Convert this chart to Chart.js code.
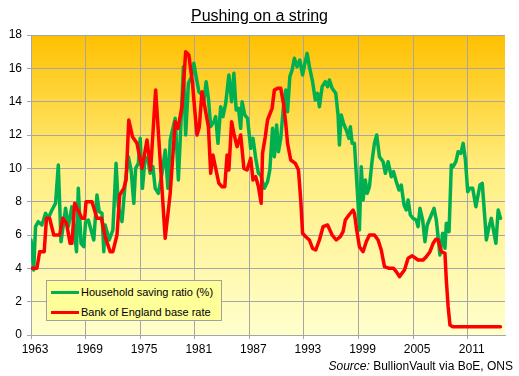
<!DOCTYPE html>
<html>
<head>
<meta charset="utf-8">
<script src="https://cdn.jsdelivr.net/npm/chart.js@4/dist/chart.umd.min.js"></script>
<style>
  html, body { margin: 0; padding: 0; background: #ffffff; }
  #wrap { position: relative; width: 519px; height: 376px; font-family: "Liberation Sans", Arial, sans-serif; }
  #c { position: absolute; left: 0; top: 0; }
  #title { position: absolute; left: 0; width: 519px; top: 7px; text-align: center; font-size: 16px; color: #000; text-decoration: underline; }
  #source { position: absolute; right: 6px; top: 359px; font-size: 12px; color: #000; }
  #legend { position: absolute; left: 46px; top: 280px; width: 174px; height: 39px; background: #FFFF99; border: 1px solid #A0A0A0; font-size: 11px; color: #000; }
  .li { position: absolute; left: 4px; height: 14px; display: flex; align-items: center; white-space: nowrap; }
  .sw { width: 28px; height: 3px; margin-right: 2px; }
</style>
</head>
<body>
<div id="wrap">
  <canvas id="c" width="519" height="376"></canvas>
  <div id="title">Pushing on a string</div>
  <div id="legend"></div>
  <div id="source"><i>Source:</i> BullionVault via BoE, ONS</div>
</div>
<script>
// ---- Data ----
const tickYears = [1963, 1969, 1975, 1981, 1987, 1993, 1999, 2005, 2011];
const yTicks = [0, 2, 4, 6, 8, 10, 12, 14, 16, 18];

const savingYears = [
  1963.0,1963.3,1963.5,1963.8,1964.2,1964.6,1964.9,1965.3,1965.7,1966.0,
  1966.3,1966.6,1966.8,1967.1,1967.3,1967.5,1967.8,1968.0,1968.2,1968.5,
  1968.8,1969.0,1969.3,1969.6,1969.9,1970.25,1970.5,1970.8,1971.0,1971.15,
  1971.6,1972.0,1972.35,1972.6,1973.0,1973.35,1973.7,1974.0,1974.3,1974.5,
  1974.8,1975.0,1975.25,1975.55,1975.85,1976.1,1976.4,1976.65,1977.0,1977.4,
  1977.75,1978.05,1978.3,1978.85,1979.2,1979.4,1979.75,1980.0,1980.3,1980.65,
  1980.9,1981.15,1981.45,1981.75,1982.0,1982.25,1982.5,1982.75,1983.1,1983.3,
  1983.55,1983.85,1984.1,1984.4,1984.75,1985.05,1985.3,1985.55,1985.8,1986.05,
  1986.2,1986.5,1986.8,1987.15,1987.4,1987.7,1988.0,1988.25,1988.65,1989.0,
  1989.25,1989.55,1989.75,1990.0,1990.2,1990.45,1990.75,1991.0,1991.2,1991.45,
  1991.7,1991.95,1992.25,1992.55,1992.85,1993.1,1993.35,1993.6,1993.95,1994.25,
  1994.5,1994.7,1995.0,1995.35,1995.6,1995.8,1996.1,1996.5,1996.75,1996.9,
  1997.1,1997.35,1997.65,1997.95,1998.1,1998.3,1998.55,1998.75,1998.95,1999.1,
  1999.3,1999.5,1999.75,1999.95,2000.2,2000.5,2000.75,2001.0,2001.3,2001.7,
  2001.95,2002.25,2002.6,2002.85,2003.15,2003.45,2003.7,2004.0,2004.25,2004.45,
  2004.7,2005.0,2005.35,2005.55,2005.75,2006.05,2006.3,2006.55,2007.0,2007.3,
  2007.55,2007.95,2008.25,2008.5,2008.65,2008.95,2009.2,2009.4,2009.7,2009.95,
  2010.25,2010.5,2010.75,2011.0,2011.25,2011.55,2011.9,2012.35,2012.6,2012.9,
  2013.05,2013.35,2013.6,2013.9,2014.1,2014.35,2014.6
];
const savingRatio = [
  5.7,3.9,6.5,6.8,6.6,7.3,7.0,7.5,7.9,10.2,
  5.6,6.8,7.6,6.5,7.1,7.7,6.1,5.0,8.8,5.5,
  5.3,6.8,6.9,6.3,5.7,8.4,7.4,7.3,5.0,6.6,
  5.7,6.3,10.3,7.7,6.8,9.1,10.7,9.9,7.9,10.0,
  10.3,11.8,8.8,10.7,10.5,9.7,10.1,8.8,8.5,9.7,
  11.1,8.8,11.7,13.0,9.3,11.7,16.1,12.0,15.1,15.5,
  16.3,15.5,14.6,14.4,14.0,15.2,14.2,12.5,12.8,13.1,
  11.5,13.7,13.1,13.9,15.6,14.0,15.7,13.5,13.6,12.4,
  14.0,13.2,13.0,11.2,11.8,10.6,9.7,9.6,8.8,9.2,
  9.9,12.4,10.7,12.6,11.0,11.8,13.7,14.7,13.4,15.5,
  15.9,16.6,16.1,16.5,15.6,16.3,16.9,16.1,15.2,14.1,
  14.5,13.7,14.9,15.2,14.9,15.3,14.8,14.5,13.2,11.4,
  13.2,12.7,12.3,11.8,12.5,11.5,11.5,9.7,7.9,6.3,
  10.1,8.1,9.3,8.5,8.9,10.5,11.5,12.0,10.7,10.4,
  9.7,10.4,9.5,9.8,9.2,8.7,9.0,7.8,7.5,8.1,
  7.2,7.0,6.9,6.5,7.6,6.9,5.6,6.6,7.2,7.6,
  6.9,4.8,6.1,5.2,6.7,6.2,10.2,10.1,10.4,11.0,
  10.9,11.5,10.5,8.6,8.8,8.8,7.7,9.0,9.1,6.9,
  5.7,6.5,7.0,6.1,5.5,7.5,7.0
];

const rateYears = [
  1963.0,1963.65,1963.95,1964.45,1964.7,1965.05,1965.5,1966.15,1966.5,1966.9,
  1967.3,1967.5,1967.8,1968.25,1968.6,1968.9,1969.05,1969.7,1970.25,1970.75,
  1971.15,1971.7,1972.0,1972.45,1972.75,1973.2,1973.45,1973.75,1974.15,1974.65,
  1975.2,1975.75,1976.15,1976.7,1977.75,1978.3,1978.85,1979.15,1979.6,1980.0,
  1980.35,1980.75,1981.0,1981.25,1981.5,1981.8,1982.1,1982.5,1982.75,1983.0,
  1983.3,1983.65,1984.0,1984.3,1984.55,1984.75,1985.05,1985.3,1985.65,1986.05,
  1986.4,1986.75,1987.15,1987.4,1987.7,1988.0,1988.3,1988.45,1988.75,1989.0,
  1989.5,1989.75,1990.1,1990.45,1990.75,1991.0,1991.2,1991.55,1992.05,1992.4,
  1992.65,1992.85,1993.2,1993.6,1993.95,1994.3,1994.7,1995.1,1995.6,1996.1,
  1996.55,1997.0,1997.3,1997.55,1997.95,1998.4,1998.55,1998.8,1999.1,1999.5,
  1999.85,2000.2,2000.75,2001.15,2001.5,2001.85,2002.35,2002.85,2003.15,2003.5,
  2004.05,2004.45,2004.9,2005.55,2006.1,2006.45,2006.85,2007.2,2007.5,2007.75,
  2008.1,2008.5,2008.65,2008.85,2009.05,2009.35,2014.6
];
const baseRate = [
  4.0,4.0,5.0,5.0,7.0,7.0,6.0,6.0,7.0,6.7,
  5.5,5.5,7.9,7.4,7.0,7.0,8.0,8.0,7.0,7.0,
  5.9,5.0,5.0,6.0,8.4,8.8,9.3,12.9,11.9,11.5,
  10.0,11.7,9.9,14.7,5.8,8.5,12.8,12.4,13.7,17.0,
  16.8,15.1,13.5,12.0,12.5,14.6,13.7,12.5,9.7,10.8,
  10.0,9.1,8.9,8.9,10.8,9.9,12.8,12.1,11.3,12.0,
  10.0,9.9,10.6,9.3,9.5,8.9,7.9,10.9,11.9,12.9,
  13.6,14.7,14.8,14.8,13.9,12.7,11.5,10.5,10.3,9.9,
  8.1,6.1,5.9,5.7,5.2,5.1,5.7,6.5,6.6,6.0,
  5.7,5.9,6.2,6.9,7.2,7.5,7.3,6.3,5.3,5.0,
  5.6,6.0,6.0,5.7,5.1,4.1,4.0,4.0,3.8,3.5,
  3.9,4.6,4.75,4.5,4.5,4.7,5.0,5.5,5.75,5.7,
  5.0,4.9,3.3,1.7,0.6,0.5,0.5
];

const seriesNames = ["Household saving ratio (%)", "Bank of England base rate"];
const seriesColors = ["#00B050", "#FF0000"];

// ---- Chart ----
const gridColor = "#A6A6A6";
const bgPlugin = {
  id: "plotBg",
  beforeDraw(chart) {
    const { ctx, chartArea: a } = chart;
    const g = ctx.createLinearGradient(0, a.top, 0, a.bottom);
    g.addColorStop(0, "#FFC000");
    g.addColorStop(0.45, "#FFEE80");
    g.addColorStop(1, "#FFFFCC");
    ctx.save();
    ctx.fillStyle = g;
    ctx.fillRect(a.left, a.top, a.right - a.left, a.bottom - a.top);
    ctx.restore();
  }
};

const toPts = (xs, ys) => xs.map((x, i) => ({ x: x, y: ys[i] }));

const lineStyle = { borderWidth: 3.5, pointRadius: 0, tension: 0, borderJoinStyle: "round", borderCapStyle: "round" };

const chart = new Chart(document.getElementById("c"), {
  type: "line",
  data: {
    datasets: [
      Object.assign({ label: seriesNames[0], data: toPts(savingYears, savingRatio), borderColor: seriesColors[0], backgroundColor: seriesColors[0], order: 2 }, lineStyle),
      Object.assign({ label: seriesNames[1], data: toPts(rateYears, baseRate), borderColor: seriesColors[1], backgroundColor: seriesColors[1], order: 1 }, lineStyle)
    ]
  },
  options: {
    responsive: false,
    animation: false,
    events: [],
    layout: { padding: { top: 35, right: 14, left: 0, bottom: 0 } },
    plugins: { legend: { display: false }, tooltip: { enabled: false }, title: { display: false } },
    scales: {
      x: {
        type: "linear",
        min: 1963,
        max: 2015.1,
        afterBuildTicks(scale) { scale.ticks = tickYears.map(v => ({ value: v })); },
        afterFit(scale) { scale.height = 41; },
        ticks: { color: "#000", font: { family: "'Liberation Sans', Arial", size: 12 }, padding: 3, labelOffset: 4, maxRotation: 0, autoSkip: false, callback: v => String(v) },
        grid: { color: gridColor, lineWidth: 1, tickLength: 4, tickColor: gridColor },
        border: { color: gridColor, width: 1 }
      },
      y: {
        min: 0,
        max: 18,
        afterBuildTicks(scale) { scale.ticks = yTicks.map(v => ({ value: v })); },
        afterFit(scale) { scale.width = 31; },
        ticks: { color: "#000", font: { family: "'Liberation Sans', Arial", size: 12 }, padding: 5, callback: v => String(v) },
        grid: { color: gridColor, lineWidth: 1, tickLength: 4, tickColor: gridColor },
        border: { color: gridColor, width: 1 }
      }
    }
  },
  plugins: [bgPlugin]
});

// HTML legend built from the chart's datasets
const leg = document.getElementById("legend");
chart.data.datasets.forEach((ds, i) => {
  const row = document.createElement("div");
  row.className = "li";
  row.style.top = (4 + i * 20) + "px";
  const sw = document.createElement("span");
  sw.className = "sw";
  sw.style.background = ds.borderColor;
  const tx = document.createElement("span");
  tx.textContent = ds.label;
  row.appendChild(sw);
  row.appendChild(tx);
  leg.appendChild(row);
});
</script>
</body>
</html>
